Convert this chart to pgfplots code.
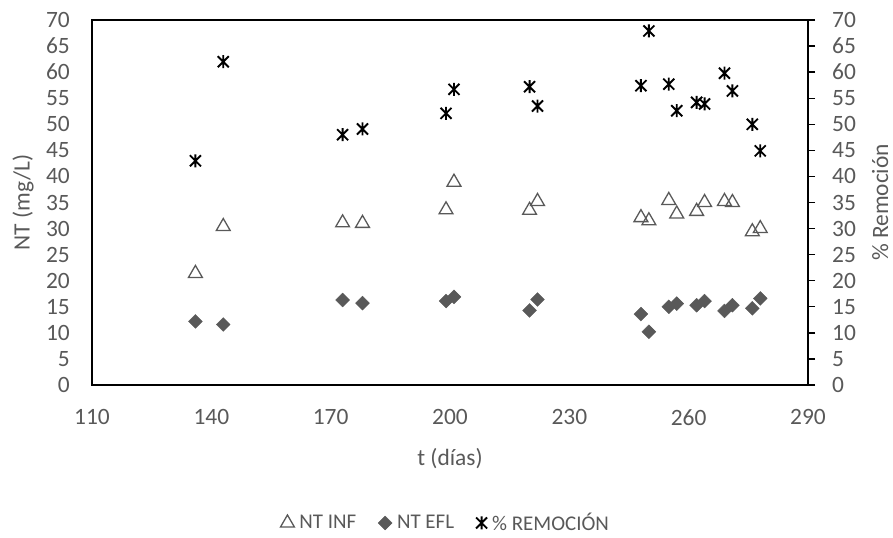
\documentclass[border=0pt]{standalone}
\usepackage{pgfplots}
\pgfplotsset{compat=1.18}
\usepackage{pgfplotstable}
\usepackage{fontspec}
\setmainfont{Carlito}

\definecolor{txtgray}{HTML}{595959}
\definecolor{mkgray}{HTML}{595959}

% X with a vertical bar, as used for the removal series
\pgfdeclareplotmark{xstar}{%
  \pgfpathmoveto{\pgfqpoint{0pt}{\pgfplotmarksize}}%
  \pgfpathlineto{\pgfqpoint{0pt}{-\pgfplotmarksize}}%
  \pgfpathmoveto{\pgfqpoint{-0.85\pgfplotmarksize}{0.85\pgfplotmarksize}}%
  \pgfpathlineto{\pgfqpoint{0.85\pgfplotmarksize}{-0.85\pgfplotmarksize}}%
  \pgfpathmoveto{\pgfqpoint{-0.85\pgfplotmarksize}{-0.85\pgfplotmarksize}}%
  \pgfpathlineto{\pgfqpoint{0.85\pgfplotmarksize}{0.85\pgfplotmarksize}}%
  \pgfusepathqstroke}

% t (days), influent NT, effluent NT, removal (%)
\pgfplotstableread{
t   inf   efl   rem
136 21.4  12.2  43.0
143 30.4  11.6  62.0
173 31.1  16.3  48.0
178 31.0  15.7  49.1
199 33.6  16.1  52.1
201 38.9  16.9  56.7
220 33.5  14.3  57.2
222 35.2  16.4  53.5
248 32.1  13.6  57.4
250 31.5  10.2  67.9
255 35.4  15.0  57.7
257 32.8  15.6  52.6
262 33.3  15.3  54.2
264 35.0  16.1  53.9
269 35.2  14.2  59.8
271 35.0  15.3  56.4
276 29.4  14.7  50.0
278 30.0  16.6  44.9
}\datatable

\begin{document}
\begin{tikzpicture}[font=\fontsize{23.5}{28}\selectfont]
\path[use as bounding box] (-92bp,-153bp) rectangle (801bp,385bp);

\begin{axis}[
  at={(0,0)}, anchor=south west,
  width=716bp, height=365bp, scale only axis,
  xmin=110, xmax=290, ymin=0, ymax=70,
  xtick={110,140,...,290},
  ytick={0,5,...,70},
  /pgf/number format/assume math mode=true,
  major tick length=0pt,
  tick style={draw=none},
  axis line style={black, line width=1.4bp},
  ticklabel style={text=txtgray},
  xticklabel style={anchor=north, inner sep=0pt, yshift=-24bp},
  yticklabel style={anchor=east, inner sep=0pt, xshift=-22bp},
  xlabel={t (días)},
  ylabel={NT (mg/L)},
  label style={text=txtgray},
  xlabel style={at={(axis description cs:0.5,-0.2027)}, anchor=center},
  ylabel style={at={(axis description cs:-0.0964,0.5)}, anchor=center},
  legend columns=3,
  legend style={
    at={(axis description cs:0.494,-0.378)}, anchor=center,
    draw=none, text=txtgray, font=\fontsize{21}{25}\selectfont,
    /tikz/every odd column/.append style={column sep=3bp},
    /tikz/every even column/.append style={column sep=20bp},
  },
  legend image code/.code={%
    \draw[mark repeat=2, mark phase=2] plot coordinates {(0bp,0bp) (7bp,0bp) (14bp,0bp)};},
]
\addplot[only marks, mark=triangle, mark size=8bp,
  mark options={draw=mkgray, fill=white, line width=1.3bp}]
  table[x=t, y=inf] {\datatable};
\addlegendentry{NT INF}
\addplot[only marks, mark=square*, mark size=4.9bp,
  mark options={draw=mkgray, fill=mkgray, rotate=45}]
  table[x=t, y=efl] {\datatable};
\addlegendentry{NT EFL}
\addplot[only marks, mark=xstar, mark size=6.5bp,
  mark options={draw=black, line width=1.9bp}]
  table[x=t, y=rem] {\datatable};
\addlegendentry{\% REMOCIÓN}
\end{axis}

% secondary scale on the right
\begin{axis}[
  at={(0,0)}, anchor=south west,
  width=716bp, height=365bp, scale only axis,
  xmin=110, xmax=290, ymin=0, ymax=70,
  axis x line=none,
  axis y line*=right,
  ytick={0,5,...,70},
  /pgf/number format/assume math mode=true,
  tick align=outside,
  major tick length=7bp,
  ytick style={black, line width=1.4bp},
  axis line style={black, line width=1.4bp, -},
  yticklabel style={text=txtgray, anchor=west, inner sep=0pt, xshift=17bp},
  ylabel={\% Remoción},
  ylabel style={text=txtgray, at={(axis description cs:1.1006,0.5)}, anchor=center},
]
\end{axis}
\end{tikzpicture}
\end{document}
